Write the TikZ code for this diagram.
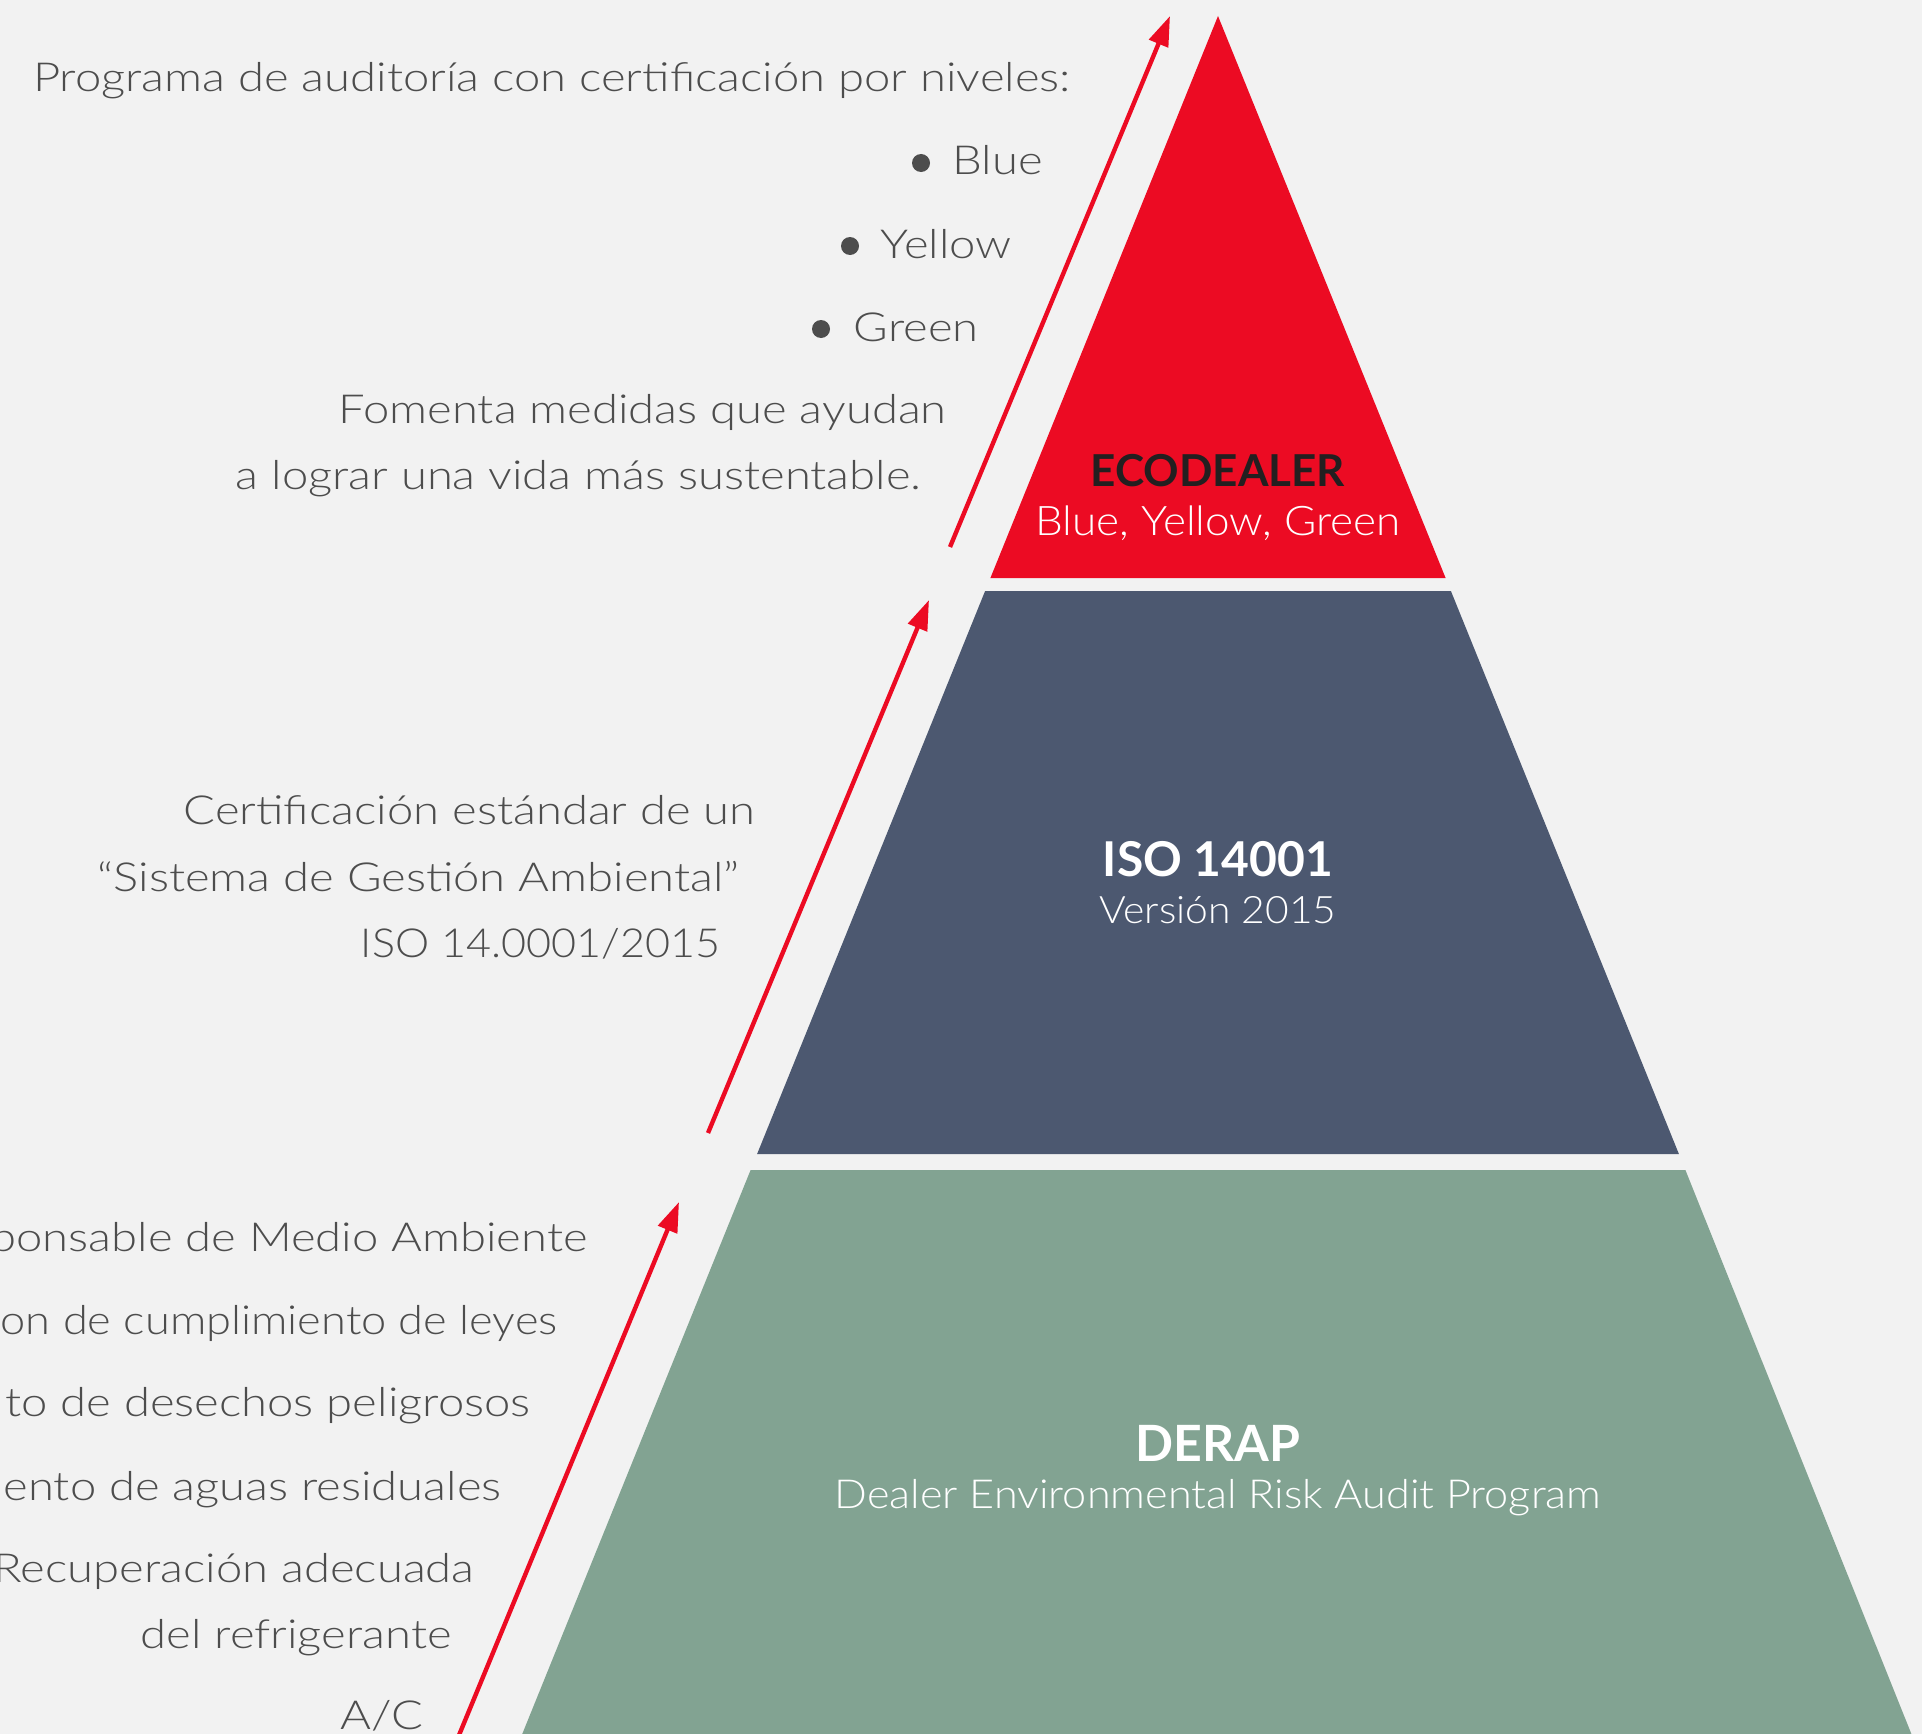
\documentclass[tikz,border=0pt]{standalone}
\usepackage{fontspec}
\setmainfont{Lato}[UprightFont=* Light, BoldFont=* Bold]
% light faces, widened to the set width of the captions
\newfontfamily\sidefont{Lato Light}[FakeStretch=1.18]
\newfontfamily\sidenarrow{Lato Light}[FakeStretch=1.13]
\newfontfamily\subfont{Lato Light}[FakeStretch=1.08]
\usetikzlibrary{arrows.meta}

\definecolor{bgpaper}{HTML}{F2F2F2}
\definecolor{ecored}{HTML}{EC0B23}
\definecolor{isoslate}{HTML}{4C5870}
\definecolor{derapgreen}{HTML}{82A392}
\definecolor{txtgrey}{HTML}{4D4D4D}
\definecolor{titledark}{HTML}{231F20}

\tikzset{
  sidetext/.style={anchor=base east, inner sep=0pt, text=txtgrey,
    font=\sidefont\fontsize{20}{24}\selectfont},
  bulletdot/.style={circle, fill=txtgrey, inner sep=0pt, minimum size=9pt},
  tiertitle/.style={anchor=base, inner sep=0pt, font=\bfseries\fontsize{24}{28}\selectfont},
  tiersub/.style={anchor=base, inner sep=0pt, text=white, font=\subfont\fontsize{20}{24}\selectfont},
  uparrow/.style={draw=ecored, line width=2.2pt,
    -{Triangle[length=15pt, width=10pt]}},
}

\begin{document}
\begin{tikzpicture}[x=0.5pt, y=-0.5pt]
  % canvas
  \fill[bgpaper] (0,0) rectangle (1922,1734);
  \useasboundingbox (0,0) rectangle (1922,1734);
  \clip (0,0) rectangle (1922,1734);

  % pyramid tiers
  \fill[ecored] (1218,16) -- (1445.6,578) -- (990.4,578) -- cycle;
  \fill[isoslate] (985.1,591) -- (1450.9,591) -- (1678.9,1154) -- (757.1,1154) -- cycle;
  \fill[derapgreen] (750.6,1170) -- (1685.4,1170) -- (1913.8,1740) -- (519.8,1740) -- cycle;

  % arrow end points
  \coordinate (a1s) at (950,547);
  \coordinate (a1e) at (1170,16);
  \coordinate (a2s) at (708,1133);
  \coordinate (a2e) at (929,600);
  \coordinate (a3s) at (457,1740);
  \coordinate (a3e) at (679,1202);
  \draw[uparrow] (a1s) -- (a1e);
  \draw[uparrow] (a2s) -- (a2e);
  \draw[uparrow] (a3s) -- (a3e);

  % tier labels
  \node[tiertitle, text=titledark, font=\bfseries\fontsize{22}{26}\selectfont] (ecot) at (1218,486) {ECODEALER};
  \node[tiersub, font=\subfont\fontsize{20.4}{24}\selectfont] (ecos) at (1218,535) {Blue, Yellow, Green};
  \node[tiertitle, text=white] (isot) at (1218,876) {ISO 14001};
  \node[tiersub, font=\subfont\fontsize{18.9}{23}\selectfont] (isos) at (1218,923) {Versión 2015};
  \node[tiertitle, text=white, font=\bfseries\fontsize{25}{29}\selectfont] (dert) at (1218,1461) {DERAP};
  \node[tiersub] (ders) at (1218,1508) {Dealer Environmental Risk Audit Program};

  % ECODEALER notes
  \node[sidetext] (prog) at (1071,92) {Programa de auditoría con certificación por niveles:};
  \node[sidetext] (lvb) at (1043,175) {Blue};
  \node[sidetext] (lvy) at (1012,258) {Yellow};
  \node[sidetext] (lvg) at (979,341) {Green};
  \node[bulletdot] (db) at (921,163) {};
  \node[bulletdot] (dy) at (850,246) {};
  \node[bulletdot] (dg) at (821,329) {};
  \node[sidetext] (fom1) at (947,423) {Fomenta medidas que ayudan};
  \node[sidetext] (fom2) at (922,489) {a lograr una vida más sustentable.};

  % ISO notes
  \node[sidetext] (iso1) at (756,824) {Certificación estándar de un};
  \node[sidetext] (iso2) at (740,891) {“Sistema de Gestión Ambiental”};
  \node[sidetext, font=\subfont\fontsize{20}{24}\selectfont] (iso3) at (721,957) {ISO 14.0001/2015};

  % DERAP notes
  \node[sidetext] (der1) at (588,1251) {ponsable de Medio Ambiente};
  \node[sidetext, font=\sidenarrow\fontsize{20}{24}\selectfont] (der2) at (558,1334) {on de cumplimiento de leyes};
  \node[sidetext] (der3) at (531,1416) {to de desechos peligrosos};
  \node[sidetext] (der4) at (502,1500) {ento de aguas residuales};
  \node[sidetext] (der5) at (475,1582) {Recuperación adecuada};
  \node[sidetext] (der6) at (452,1648) {del refrigerante};
  \node[sidetext] (der7) at (424,1729) {A/C};
\end{tikzpicture}
\end{document}
